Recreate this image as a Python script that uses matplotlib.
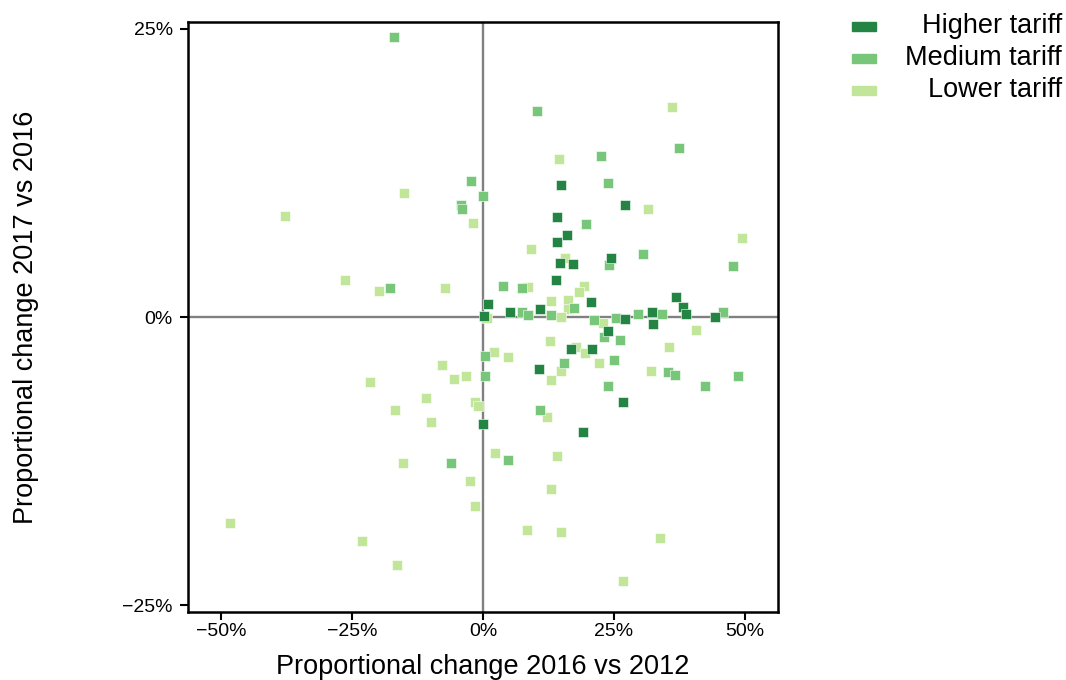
import matplotlib
matplotlib.use("Agg")
import matplotlib.pyplot as plt
from matplotlib.patches import Rectangle

plt.rcParams['font.family'] = ['Liberation Sans', 'DejaVu Sans']

# proportional changes in percent: x = 2016 vs 2012, y = 2017 vs 2016
higher_x = [1.0, 14.8, 27.0, 14.1, 16.1, 14.2, 24.5, 14.6, 17.2, 13.9, 36.8, 20.6, 38.2, 10.9,
            5.2, 0.25, 38.7, 32.2, 32.4, 27.0, 44.3, 23.9, 16.8, 20.7, 10.6, 26.8, -0.1, 19.1]
higher_y = [1.1, 11.5, 9.7, 8.7, 7.1, 6.5, 5.1, 4.7, 4.6, 3.2, 1.7, 1.3, 0.9, 0.7,
            0.43, 0.06, 0.23, 0.4, -0.6, -0.15, 0.03, -1.2, -2.8, -2.8, -4.5, -7.4, -9.3, -10.0]

medium_x = [-17.0, -2.3, 0.06, -4.3, -4.1, -17.7, 10.3, 37.4, 22.5, 23.9, 19.7, 30.6, 47.7, 24.0,
            3.8, 7.5, 17.4, 7.5, 8.5, 13.0, 21.1, 23.1, 25.4, 29.5, 34.1, 45.8, 26.1, 25.0,
            0.3, 15.5, 0.4, 35.2, 36.6, 48.7, 23.8, 42.3, 10.9, 4.8, -6.1]
medium_y = [24.3, 11.8, 10.5, 9.7, 9.4, 2.5, 17.9, 14.7, 14.0, 11.6, 8.1, 5.5, 4.4, 4.5,
            2.7, 2.5, 0.8, 0.46, 0.2, 0.2, -0.3, -1.7, -0.1, 0.3, 0.3, 0.4, -2.0, -3.7,
            -3.4, -4.0, -5.1, -4.8, -5.0, -5.1, -6.0, -6.0, -8.1, -12.4, -12.7]

lower_x = [-15.1, -37.8, -1.9, -26.3, -19.8, -7.3, 36.1, 14.4, 31.5, 9.2, 49.5, 15.6, 8.6, 19.3,
           18.4, 13.0, 16.3, 16.3, 0.8, 14.8, 22.8, 40.6, 12.8, 17.7, 19.5, 2.0, 4.8, 35.5,
           22.2, 14.9, 12.9, 32.0, 12.2, 2.3, 14.1, 13.0, 8.4, 14.9, 33.8, 26.7, -7.8, -5.5,
           -3.2, -21.6, -10.9, -1.5, -1.0, -16.9, -10.0, -15.3, -2.5, -1.5, -48.2, -23.1, -16.5]
lower_y = [10.8, 8.8, 8.2, 3.2, 2.3, 2.5, 18.2, 13.7, 9.4, 5.9, 6.9, 5.1, 2.6, 2.7,
           2.2, 1.4, 1.5, 0.7, -0.1, 0.0, -0.55, -1.1, -2.1, -2.6, -3.1, -3.0, -3.5, -2.6,
           -4.0, -4.7, -5.5, -4.7, -8.7, -11.8, -12.1, -14.9, -18.5, -18.7, -19.2, -22.9, -4.2, -5.4,
           -5.1, -5.6, -7.0, -7.4, -7.7, -8.1, -9.1, -12.7, -14.2, -16.4, -17.9, -19.4, -21.5]

labels = ["Higher tariff", "Medium tariff", "Lower tariff"]
colors = ["#238443", "#78c679", "#c2e699"]
xticks = [-50, -25, 0, 25, 50]
yticks = [-25, 0, 25]

fig = plt.figure(figsize=(10.66, 6.8), dpi=100)
ax = fig.add_axes([0.1764, 0.1, 0.5535, 0.8676])

ax.axhline(0, color="#808080", lw=1.7, zorder=1)
ax.axvline(0, color="#808080", lw=1.7, zorder=1)

# lower first so darker points sit on top
for xs, ys, c in [(lower_x, lower_y, colors[2]), (medium_x, medium_y, colors[1]),
                  (higher_x, higher_y, colors[0])]:
    ax.scatter(xs, ys, marker="s", s=50, color=c, edgecolors="white", linewidths=0.4, zorder=3)

ax.set_xlim(-56.3, 56.3)
ax.set_ylim(-25.6, 25.6)
ax.set_xticks(xticks)
ax.set_xticklabels([f"{v}%".replace("-", "\u2212") for v in xticks])
ax.set_yticks(yticks)
ax.set_yticklabels([f"{v}%".replace("-", "\u2212") for v in yticks])
ax.tick_params(axis="both", length=6, width=1.5, labelsize=14, direction="out")
ax.tick_params(axis="x", pad=2)
ax.tick_params(axis="y", pad=5)
for sp in ax.spines.values():
    sp.set_linewidth(1.8)

ax.set_xlabel("Proportional change 2016 vs 2012", fontsize=19.5)
ax.set_ylabel("Proportional change 2017 vs 2016", fontsize=19.5)
ax.xaxis.set_label_coords(0.5, -0.071)
ax.yaxis.set_label_coords(-0.252, 0.5)

# legend drawn by hand so the labels can be right-aligned
for i, (lab, c) in enumerate(zip(labels, colors)):
    yc = 1 - (26 + 32 * i) / 680
    fig.patches.append(Rectangle((852 / 1066, yc - 4.5 / 680), 24 / 1066, 9 / 680,
                                 transform=fig.transFigure, color=c))
    fig.text(1062 / 1066, yc, lab, ha="right", va="center", fontsize=19.5)

fig.savefig("out.png", dpi=100)
